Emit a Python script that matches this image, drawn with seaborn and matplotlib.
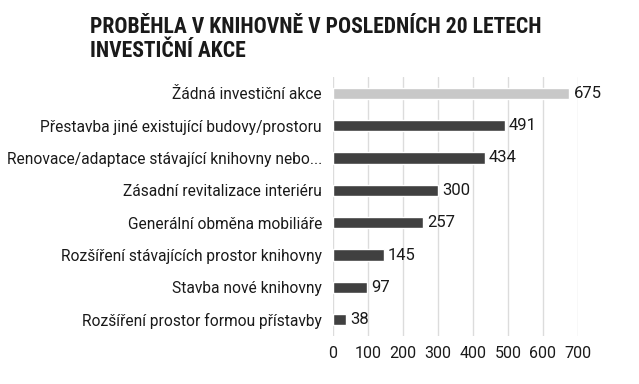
import pandas as pd
import seaborn as sns
import matplotlib.pyplot as plt
from matplotlib import font_manager

# data
categories = [
    "Žádná investiční akce",
    "Přestavba jiné existující budovy/prostoru",
    "Renovace/adaptace stávající knihovny nebo...",
    "Zásadní revitalizace interiéru",
    "Generální obměna mobiliáře",
    "Rozšíření stávajících prostor knihovny",
    "Stavba nové knihovny",
    "Rozšíření prostor formou přístavby",
]
counts = [675, 491, 434, 300, 257, 145, 97, 38]
bar_colors = ["#c8c8c8"] + ["#404040"] * 7
x_ticks = [0, 100, 200, 300, 400, 500, 600, 700]

df = pd.DataFrame({"akce": categories, "pocet": counts})

sns.set_style("white")
plt.rcParams["font.family"] = ["Roboto", "DejaVu Sans"]

# condensed face for the title if there is one
names = {f.name for f in font_manager.fontManager.ttflist}
title_font, title_size = "Roboto", 13
for cand in ["Roboto Condensed", "Liberation Sans Narrow", "Open Sans Condensed"]:
    if cand in names:
        title_font, title_size = cand, 15.6
        break

fig = plt.figure(figsize=(6.39, 3.84), dpi=100)
ax = fig.add_axes([333 / 639, 1 - 336 / 384, 245 / 639, 259 / 384])

sns.barplot(data=df, x="pocet", y="akce", hue="akce", palette=bar_colors,
            legend=False, width=0.35, ax=ax, saturation=1)

ax.set_xlim(0, 700)
ax.set_xticks(x_ticks)
ax.xaxis.grid(True, color="#dcdcdc", linewidth=1)
ax.set_axisbelow(True)
for s in ax.spines.values():
    s.set_visible(False)
ax.set_xlabel("")
ax.set_ylabel("")
ax.tick_params(axis="both", length=0, colors="#1a1a1a")
ax.tick_params(axis="y", pad=8, labelsize=11.2)
ax.tick_params(axis="x", pad=7, labelsize=11.5)

for i, v in enumerate(counts):
    ax.text(v + 12, i, str(v), va="center", ha="left", fontsize=12, color="#1a1a1a")

fig.text(90 / 639, 1 - 16 / 384, "PROBĚHLA V KNIHOVNĚ V POSLEDNÍCH 20 LETECH\nINVESTIČNÍ AKCE",
         ha="left", va="top", fontsize=title_size, fontweight="bold", color="#1a1a1a",
         family=[title_font, "DejaVu Sans"], linespacing=1.1)

fig.savefig("out.png", dpi=100, facecolor="white")
